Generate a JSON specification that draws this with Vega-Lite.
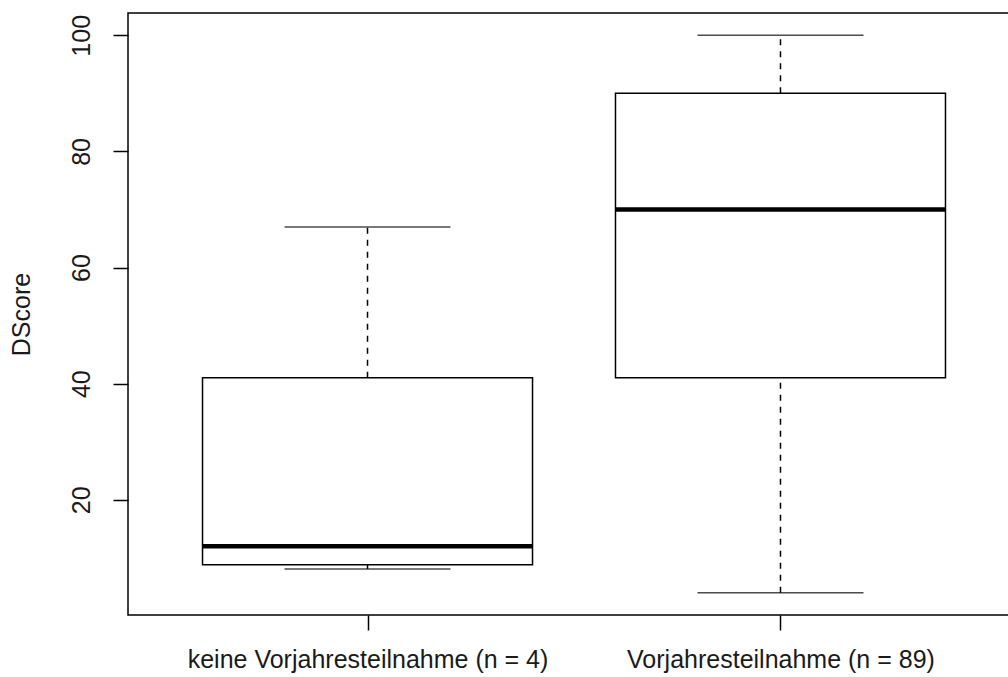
{
  "$schema": "https://vega.github.io/schema/vega-lite/v6.json",
  "autosize": "none",
  "padding": {"left": 128, "top": 13, "right": 0, "bottom": 62},
  "width": 892,
  "height": 602,
  "background": "white",
  "config": {
    "view": {"stroke": "black", "strokeWidth": 1.5},
    "font": "Liberation Sans"
  },
  "data": {
    "values": [
      {"group": "keine Vorjahresteilnahme (n = 4)", "lower": 8.1, "q1": 8.8, "median": 12, "q3": 41, "upper": 67},
      {"group": "Vorjahresteilnahme (n = 89)", "lower": 4, "q1": 41, "median": 70, "q3": 90, "upper": 100}
    ]
  },
  "encoding": {
    "x": {
      "field": "group",
      "type": "nominal",
      "sort": null,
      "scale": {"type": "point", "padding": 0.58},
      "axis": {
        "title": null,
        "labelAngle": 0,
        "labelLimit": 0,
        "labelFontSize": 25,
        "labelColor": "#1a1a1a",
        "labelPadding": 17,
        "tickSize": 15,
        "tickColor": "black",
        "tickWidth": 1.5,
        "domain": false,
        "grid": false
      }
    }
  },
  "layer": [
    {
      "mark": {"type": "rule", "color": "black", "strokeWidth": 1.5, "strokeDash": [6, 6]},
      "encoding": {
        "y": {
          "field": "lower",
          "type": "quantitative",
          "scale": {"domain": [0.16, 103.84], "nice": false, "zero": false},
          "axis": {
            "title": "DScore",
            "titleFontSize": 25,
            "titleFontWeight": "normal",
            "titleColor": "#1a1a1a",
            "titlePadding": 35,
            "values": [20, 40, 60, 80, 100],
            "labelAngle": 270,
            "labelAlign": "center",
            "labelBaseline": "bottom",
            "labelFontSize": 25,
            "labelColor": "#1a1a1a",
            "labelPadding": 19,
            "tickSize": 15,
            "tickColor": "black",
            "tickWidth": 1.5,
            "domain": false,
            "grid": false
          }
        },
        "y2": {"field": "q1"}
      }
    },
    {
      "mark": {"type": "rule", "color": "black", "strokeWidth": 1.5, "strokeDash": [6, 6]},
      "encoding": {
        "y": {"field": "q3", "type": "quantitative"},
        "y2": {"field": "upper"}
      }
    },
    {
      "mark": {"type": "tick", "orient": "horizontal", "color": "black", "size": 166, "thickness": 1.5},
      "encoding": {"y": {"field": "lower", "type": "quantitative"}}
    },
    {
      "mark": {"type": "tick", "orient": "horizontal", "color": "black", "size": 166, "thickness": 1.5},
      "encoding": {"y": {"field": "upper", "type": "quantitative"}}
    },
    {
      "mark": {"type": "bar", "size": 330, "fill": "white", "stroke": "black", "strokeWidth": 1.5},
      "encoding": {
        "y": {"field": "q1", "type": "quantitative"},
        "y2": {"field": "q3"}
      }
    },
    {
      "mark": {"type": "tick", "orient": "horizontal", "color": "black", "size": 331, "thickness": 4.5, "opacity": 1},
      "encoding": {"y": {"field": "median", "type": "quantitative"}}
    }
  ]
}
